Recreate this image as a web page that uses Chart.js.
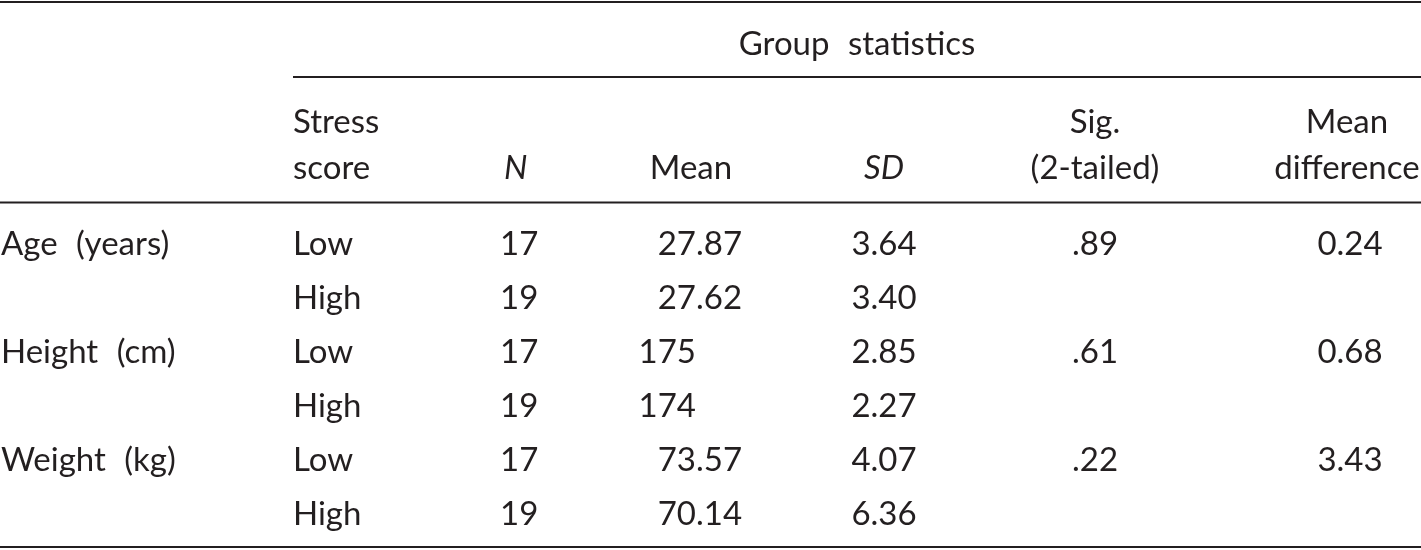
<!DOCTYPE html>
<html>
<head>
<meta charset="utf-8">
<script src="https://cdn.jsdelivr.net/npm/chart.js@4"></script>
<style>
html,body{margin:0;padding:0;background:#fff;}
#wrap{width:1421px;height:550px;}
</style>
</head>
<body>
<div id="wrap"><canvas id="c" width="1421" height="550"></canvas></div>
<script>
// ---- data ----
const spanner = 'Group statistics';
const headerLine1 = ['', 'Stress', '', '', '', 'Sig.', 'Mean'];
const headerLine2 = ['', 'score', 'N', 'Mean', 'SD', '(2-tailed)', 'difference'];
const rowLabels = ['Age (years)', '', 'Height (cm)', '', 'Weight (kg)', ''];
const stressScore = ['Low', 'High', 'Low', 'High', 'Low', 'High'];
const nValues = ['17', '19', '17', '19', '17', '19'];
const means = ['27.87', '27.62', '175', '174', '73.57', '70.14'];
const sds = ['3.64', '3.40', '2.85', '2.27', '4.07', '6.36'];
const sigs = ['.89', '', '.61', '', '.22', ''];
const meanDiffs = ['0.24', '', '0.68', '', '3.43', ''];

// ---- layout (canvas units) ----
const W = 1421, H = 550;
const colX = [1, 293, 500, 696, 884, 1095, 1350];
const colAlign = ['left', 'left', 'left', 'decimal', 'center', 'center', 'center'];
const headAlign = ['left', 'left', 'left', 'center', 'center', 'center', 'center'];
const headX = [1, 293, 504, 691, 884, 1095, 1347];
const italicHead = [false, false, true, false, true, false, false];
const spannerX = 857, spannerY = 55;
const head1Y = 133, head2Y = 179;
const rowY0 = 255, rowStep = 54;
const rules = [
  {x0: 0, x1: W, y: 2, w: 2.2},
  {x0: 293, x1: W, y: 77, w: 2},
  {x0: 0, x1: W, y: 202.5, w: 2},
  {x0: 0, x1: W, y: 547, w: 2.2}
];
const FONT = 'Lato, "Open Sans", sans-serif';
const FSIZE = 33;
const WORD_GAP = '10px';
const INK = '#231f20';

const columns = [rowLabels, stressScore, nValues, means, sds, sigs, meanDiffs];

const datasets = [];
// rules
rules.forEach(r => datasets.push({
  type: 'scatter', showLine: true, data: [{x: r.x0, y: r.y}, {x: r.x1, y: r.y}],
  borderColor: INK, borderWidth: r.w, pointRadius: 0, clip: false
}));
// spanner
datasets.push({type: 'scatter', data: [{x: spannerX, y: spannerY}], pointRadius: 0,
  cellText: [spanner], align: 'center', italic: false});
// header lines
columns.forEach((col, ci) => {
  datasets.push({type: 'scatter', pointRadius: 0,
    data: [{x: headX[ci], y: head1Y}, {x: headX[ci], y: head2Y}],
    cellText: [headerLine1[ci], headerLine2[ci]], align: headAlign[ci], italic: italicHead[ci]});
});
// body cells
columns.forEach((col, ci) => {
  datasets.push({type: 'scatter', pointRadius: 0,
    data: col.map((v, ri) => ({x: colX[ci], y: rowY0 + ri * rowStep})),
    cellText: col, align: colAlign[ci], italic: false});
});

const cellPlugin = {
  id: 'cells',
  afterDatasetsDraw(chart) {
    const ctx = chart.ctx;
    chart.data.datasets.forEach((ds, di) => {
      if (!ds.cellText) return;
      const meta = chart.getDatasetMeta(di);
      meta.data.forEach((pt, i) => {
        const t = ds.cellText[i];
        if (!t) return;
        ctx.save();
        ctx.font = (ds.italic ? 'italic ' : '') + FSIZE + 'px ' + FONT;
        if ('wordSpacing' in ctx) ctx.wordSpacing = WORD_GAP;
        ctx.fillStyle = INK;
        ctx.textBaseline = 'alphabetic';
        if (ds.align === 'decimal') {
          const k = t.indexOf('.');
          const ip = k < 0 ? t : t.slice(0, k);
          const fp = k < 0 ? '' : t.slice(k);
          ctx.textAlign = 'right';
          ctx.fillText(ip, pt.x, pt.y);
          ctx.textAlign = 'left';
          if (fp) ctx.fillText(fp, pt.x, pt.y);
        } else {
          ctx.textAlign = ds.align;
          ctx.fillText(t, pt.x, pt.y);
        }
        ctx.restore();
      });
    });
  }
};

new Chart(document.getElementById('c'), {
  type: 'scatter',
  data: {datasets},
  options: {
    responsive: false,
    animation: false,
    events: [],
    layout: {padding: 0},
    plugins: {legend: {display: false}, tooltip: {enabled: false}, title: {display: false}},
    scales: {
      x: {type: 'linear', min: 0, max: W, display: false},
      y: {type: 'linear', min: 0, max: H, reverse: true, display: false}
    }
  },
  plugins: [cellPlugin]
});
</script>
</body>
</html>
